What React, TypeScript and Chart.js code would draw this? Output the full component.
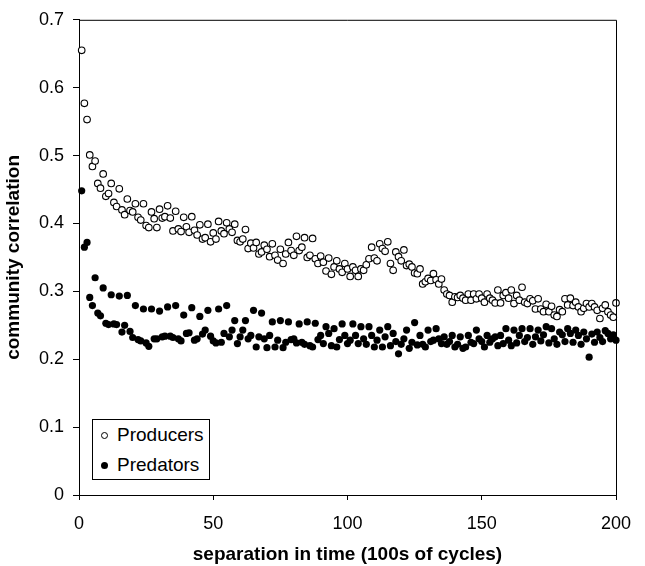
import React, { useEffect, useRef } from 'react';
import { Chart, registerables } from 'chart.js';

Chart.register(...registerables);

// x positions are 1..200 (separation in time, 100s of cycles)
const xStart = 1;

const producers = [
  0.655, 0.577, 0.553, 0.501, 0.484, 0.492, 0.459, 0.452, 0.473, 0.440,
  0.444, 0.459, 0.431, 0.425, 0.451, 0.420, 0.413, 0.436, 0.419, 0.417,
  0.429, 0.409, 0.405, 0.429, 0.397, 0.394, 0.417, 0.407, 0.394, 0.421,
  0.408, 0.410, 0.426, 0.408, 0.389, 0.418, 0.392, 0.388, 0.409, 0.395,
  0.387, 0.410, 0.390, 0.383, 0.398, 0.377, 0.379, 0.399, 0.373, 0.386,
  0.377, 0.403, 0.389, 0.385, 0.401, 0.392, 0.387, 0.399, 0.375, 0.373,
  0.377, 0.391, 0.363, 0.371, 0.364, 0.372, 0.355, 0.358, 0.368, 0.362,
  0.351, 0.370, 0.353, 0.346, 0.362, 0.341, 0.355, 0.372, 0.360, 0.353,
  0.381, 0.360, 0.365, 0.379, 0.350, 0.353, 0.378, 0.348, 0.341, 0.352,
  0.343, 0.330, 0.349, 0.325, 0.336, 0.345, 0.333, 0.328, 0.341, 0.333,
  0.322, 0.336, 0.331, 0.322, 0.333, 0.331, 0.339, 0.348, 0.365, 0.349,
  0.345, 0.370, 0.363, 0.359, 0.373, 0.341, 0.331, 0.358, 0.351, 0.345,
  0.361, 0.338, 0.340, 0.336, 0.327, 0.326, 0.333, 0.311, 0.314, 0.319,
  0.316, 0.326, 0.317, 0.311, 0.318, 0.302, 0.296, 0.294, 0.284, 0.292,
  0.291, 0.294, 0.290, 0.287, 0.296, 0.287, 0.296, 0.289, 0.296, 0.290,
  0.284, 0.296, 0.290, 0.287, 0.283, 0.302, 0.283, 0.294, 0.298, 0.290,
  0.302, 0.282, 0.294, 0.287, 0.306, 0.284, 0.282, 0.289, 0.286, 0.274,
  0.289, 0.274, 0.270, 0.281, 0.270, 0.278, 0.265, 0.263, 0.273, 0.270,
  0.289, 0.280, 0.290, 0.279, 0.284, 0.277, 0.270, 0.275, 0.282, 0.277,
  0.282, 0.277, 0.272, 0.260, 0.275, 0.280, 0.270, 0.265, 0.262, 0.283,
];

const predators = [
  0.448, 0.365, 0.372, 0.291, 0.279, 0.320, 0.268, 0.264, 0.305, 0.253,
  0.251, 0.295, 0.252, 0.251, 0.293, 0.240, 0.250, 0.294, 0.241, 0.232,
  0.279, 0.229, 0.227, 0.274, 0.224, 0.219, 0.274, 0.230, 0.230, 0.271,
  0.233, 0.234, 0.277, 0.234, 0.232, 0.279, 0.230, 0.227, 0.265, 0.238,
  0.239, 0.276, 0.228, 0.230, 0.263, 0.237, 0.243, 0.272, 0.234, 0.227,
  0.224, 0.274, 0.225, 0.238, 0.279, 0.233, 0.243, 0.257, 0.223, 0.233,
  0.243, 0.257, 0.230, 0.235, 0.272, 0.218, 0.233, 0.268, 0.230, 0.217,
  0.235, 0.255, 0.218, 0.228, 0.257, 0.217, 0.225, 0.255, 0.229, 0.230,
  0.224, 0.252, 0.225, 0.222, 0.255, 0.220, 0.218, 0.253, 0.229, 0.235,
  0.223, 0.248, 0.238, 0.220, 0.245, 0.218, 0.229, 0.252, 0.235, 0.223,
  0.228, 0.252, 0.235, 0.223, 0.248, 0.230, 0.222, 0.248, 0.235, 0.218,
  0.228, 0.243, 0.218, 0.233, 0.248, 0.220, 0.238, 0.226, 0.208, 0.222,
  0.230, 0.243, 0.216, 0.225, 0.254, 0.221, 0.235, 0.222, 0.218, 0.243,
  0.226, 0.228, 0.245, 0.230, 0.223, 0.233, 0.222, 0.226, 0.235, 0.218,
  0.222, 0.233, 0.216, 0.218, 0.235, 0.225, 0.223, 0.243, 0.230, 0.226,
  0.218, 0.235, 0.225, 0.230, 0.233, 0.220, 0.235, 0.223, 0.245, 0.228,
  0.220, 0.243, 0.224, 0.235, 0.245, 0.226, 0.232, 0.245, 0.222, 0.233,
  0.243, 0.227, 0.236, 0.248, 0.224, 0.245, 0.230, 0.222, 0.240, 0.236,
  0.226, 0.245, 0.238, 0.225, 0.243, 0.235, 0.222, 0.240, 0.230, 0.203,
  0.237, 0.225, 0.240, 0.232, 0.226, 0.242, 0.238, 0.230, 0.236, 0.228,
];

const xTicks = [0, 50, 100, 150, 200];
const yTicks = [0, 0.1, 0.2, 0.3, 0.4, 0.5, 0.6, 0.7];
const seriesNames = ['Producers', 'Predators'];
const xTitle = 'separation in time (100s of cycles)';
const yTitle = 'community correlation';

const FONT = '"Liberation Sans", Arial, sans-serif';

const framePlugin = {
  id: 'frame',
  afterDraw(chart: any) {
    const { ctx, chartArea } = chart;
    ctx.save();
    ctx.strokeStyle = '#000';
    ctx.lineWidth = 1;
    ctx.beginPath();
    ctx.moveTo(chartArea.left, chartArea.top + 0.5);
    ctx.lineTo(chartArea.right + 0.5, chartArea.top + 0.5);
    ctx.lineTo(chartArea.right + 0.5, chartArea.bottom);
    ctx.stroke();
    ctx.restore();
  },
};

export default function App() {
  const ref = useRef<HTMLCanvasElement | null>(null);

  useEffect(() => {
    if (!ref.current) return;
    const toPts = (arr: number[]) => arr.map((y, i) => ({ x: xStart + i, y }));
    const chart = new Chart(ref.current, {
      type: 'scatter',
      data: {
        datasets: [
          {
            label: seriesNames[0],
            data: toPts(producers),
            pointStyle: 'circle',
            pointRadius: 3.3,
            pointBorderWidth: 1.1,
            pointBackgroundColor: '#fff',
            pointBorderColor: '#000',
            clip: false,
          } as any,
          {
            label: seriesNames[1],
            data: toPts(predators),
            pointStyle: 'circle',
            pointRadius: 3.6,
            pointBorderWidth: 0,
            pointBackgroundColor: '#000',
            pointBorderColor: '#000',
            clip: false,
          } as any,
        ],
      },
      options: {
        responsive: false,
        animation: false,
        devicePixelRatio: 1,
        layout: { padding: { left: 0, right: 29, top: 19, bottom: 0 } },
        plugins: {
          legend: { display: false },
          tooltip: { enabled: false },
        },
        scales: {
          x: {
            type: 'linear',
            min: 0,
            max: 200,
            afterBuildTicks: (s: any) => {
              s.ticks = xTicks.map((v) => ({ value: v }));
            },
            afterFit: (s: any) => {
              s.height = 71;
            },
            ticks: {
              color: '#000',
              font: { family: FONT, size: 18 },
              padding: 13,
              maxRotation: 0,
            },
            grid: {
              display: true,
              drawOnChartArea: false,
              drawTicks: true,
              tickLength: 5,
              color: '#000',
            },
            border: { display: true, color: '#000', width: 1 },
            title: {
              display: true,
              text: xTitle,
              color: '#000',
              font: { family: FONT, size: 19, weight: 'bold' },
              padding: { top: 0, bottom: 0 },
            },
          },
          y: {
            type: 'linear',
            min: 0,
            max: 0.7,
            afterBuildTicks: (s: any) => {
              s.ticks = yTicks.map((v) => ({ value: v }));
            },
            afterFit: (s: any) => {
              s.width = 79;
            },
            ticks: {
              color: '#000',
              font: { family: FONT, size: 18 },
              padding: 9,
              callback: (v: any) => (Number(v) === 0 ? '0' : Number(v).toFixed(1)),
            },
            grid: {
              display: true,
              drawOnChartArea: false,
              drawTicks: true,
              tickLength: 6,
              color: '#000',
            },
            border: { display: true, color: '#000', width: 1 },
            title: {
              display: true,
              text: yTitle,
              color: '#000',
              font: { family: FONT, size: 19, weight: 'bold' },
              padding: { top: 2, bottom: 0 },
            },
          },
        },
      },
      plugins: [framePlugin],
    });
    return () => chart.destroy();
  }, []);

  const legendRow: React.CSSProperties = {
    display: 'flex',
    alignItems: 'center',
    height: 30,
    fontFamily: FONT,
    fontSize: 19,
    color: '#000',
  };

  return (
    <div style={{ position: 'absolute', left: 0, top: 0, width: 645, height: 566, background: '#fff' }}>
      <canvas ref={ref} width={645} height={566} style={{ display: 'block' }} />
      <div
        style={{
          position: 'absolute',
          left: 92,
          top: 419,
          width: 118,
          height: 61,
          border: '1px solid #000',
          boxSizing: 'border-box',
          background: '#fff',
          padding: '0 0 0 8px',
        }}
      >
        <div style={legendRow}>
          <span
            style={{
              display: 'inline-block',
              width: 5,
              height: 5,
              borderRadius: '50%',
              border: '1px solid #000',
              marginRight: 9,
              boxSizing: 'content-box',
            }}
          />
          {seriesNames[0]}
        </div>
        <div style={legendRow}>
          <span
            style={{
              display: 'inline-block',
              width: 7,
              height: 7,
              borderRadius: '50%',
              background: '#000',
              marginRight: 9,
            }}
          />
          {seriesNames[1]}
        </div>
      </div>
    </div>
  );
}
